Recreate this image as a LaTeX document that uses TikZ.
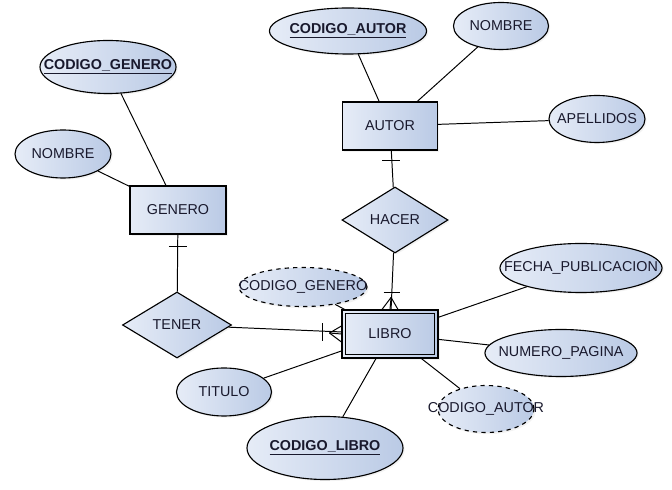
\documentclass[tikz,border=0pt]{standalone}
\usepackage{fontspec}
\setmainfont{Liberation Sans}
\usetikzlibrary{shapes.geometric,calc,shadows}

\definecolor{shadelight}{RGB}{230,236,247}
\definecolor{shadedark}{RGB}{186,202,229}
\definecolor{ertext}{RGB}{25,25,45}

\tikzset{
    base/.style={draw, line width=0.8pt, left color=shadelight, right color=shadedark,
        text=ertext, font=\fontsize{10.2}{12}\selectfont,
        drop shadow={opacity=0.1, shadow xshift=1.2pt, shadow yshift=-1.2pt}},
    entity/.style={base, rectangle, minimum width=2.4cm, minimum height=1.2cm},
    relation/.style={base, diamond, minimum height=1.65cm, inner sep=0pt},
    attr/.style={base, ellipse, inner sep=0pt},
    derived/.style={attr, dashed},
    link/.style={line width=0.7pt},
    every label/.style={text=ertext, font=\fontsize{10.2}{12}\selectfont, inner sep=0pt}
}
\newcommand{\keyattr}[1]{\underline{\textbf{#1}}}

\begin{document}
\begin{tikzpicture}[x=0.025cm, y=-0.025cm]
    \useasboundingbox (0,0) rectangle (672,490);

    % Entities
    \node[entity] (genero) at (178,210) {GENERO};
    \node[entity, minimum width=2.375cm] (autor) at (390,126) {AUTOR};
    \node[entity] (libro) at (390,334) {LIBRO};
    \draw[line width=0.8pt] ($(libro.north west)+(4,4)$) rectangle ($(libro.south east)+(-4,-4)$);

    % Relations
    \node[relation, minimum width=2.725cm] (tener) at (177,325) {TENER};
    \node[relation, minimum width=2.65cm] (hacer) at (395,220) {HACER};

    % Attributes of GENERO
    \node[attr, minimum width=3.4cm, minimum height=1.325cm,
        label={center:\keyattr{CODIGO\_GENERO}}] (gcodigo) at (108,67) {};
    \node[attr, minimum width=2.4cm, minimum height=1.2cm,
        label={center:NOMBRE}] (gnombre) at (63,154) {};

    % Attributes of AUTOR
    \node[attr, minimum width=3.925cm, minimum height=1.15cm,
        label={center:\keyattr{CODIGO\_AUTOR}}] (acodigo) at (348,31) {};
    \node[attr, minimum width=2.375cm, minimum height=1.175cm,
        label={center:NOMBRE}] (anombre) at (501,26) {};
    \node[attr, minimum width=2.4cm, minimum height=1.175cm,
        label={center:APELLIDOS}] (aapellidos) at (597,119) {};

    % Attributes of LIBRO
    \node[derived, minimum width=3.2cm, minimum height=0.975cm,
        label={center:CODIGO\_GENERO}] (lgenero) at (303,287) {};
    \node[attr, minimum width=4.05cm, minimum height=1.225cm,
        label={center:FECHA\_PUBLICACION}] (lfecha) at (581,268) {};
    \node[attr, minimum width=3.8cm, minimum height=1.175cm,
        label={center:NUMERO\_PAGINA}] (lpagina) at (561,353) {};
    \node[derived, minimum width=2.4cm, minimum height=1.175cm,
        label={center:CODIGO\_AUTOR}] (lautor) at (486,409) {};
    \node[attr, minimum width=2.375cm, minimum height=1.2cm,
        label={center:TITULO}] (ltitulo) at (224,392) {};
    \node[attr, minimum width=3.9cm, minimum height=1.575cm,
        label={center:\keyattr{CODIGO\_LIBRO}}] (lcodigo) at (325,448) {};

    % Connectors
    \foreach \a/\b in {gcodigo/genero, gnombre/genero, acodigo/autor, anombre/autor,
        aapellidos/autor, lgenero/libro, lfecha/libro, lpagina/libro, lautor/libro,
        ltitulo/libro, lcodigo/libro, genero/tener, autor/hacer, tener/libro, hacer/libro}
        \draw[link] (\a) -- (\b);

    % Cardinality: one
    \draw[link] ($(genero.south)!0.3cm!(tener.north)$) ++(-9,0) -- ++(18,0);
    \draw[link] ($(autor.south)!0.25cm!(hacer.north)$) ++(-9,0) -- ++(18,0);

    % Cardinality: one to many
    \coordinate (hfoot) at ($(libro.north)!0.3cm!(hacer.south)$);
    \foreach \d in {-8,0,8}
        \draw[link] (hfoot) -- ($(libro.north)+(\d,0)$);
    \draw[link] ($(libro.north)!0.42cm!(hacer.south)$) ++(-8,0) -- ++(16,0);

    \coordinate (tfoot) at ($(libro.west)!0.3cm!(tener.east)$);
    \foreach \d in {-8,0,8}
        \draw[link] (tfoot) -- ($(libro.west)+(0,\d)$);
    \draw[link] ($(libro.west)!0.47cm!(tener.east)$) ++(0,-9) -- ++(0,18);
\end{tikzpicture}
\end{document}
